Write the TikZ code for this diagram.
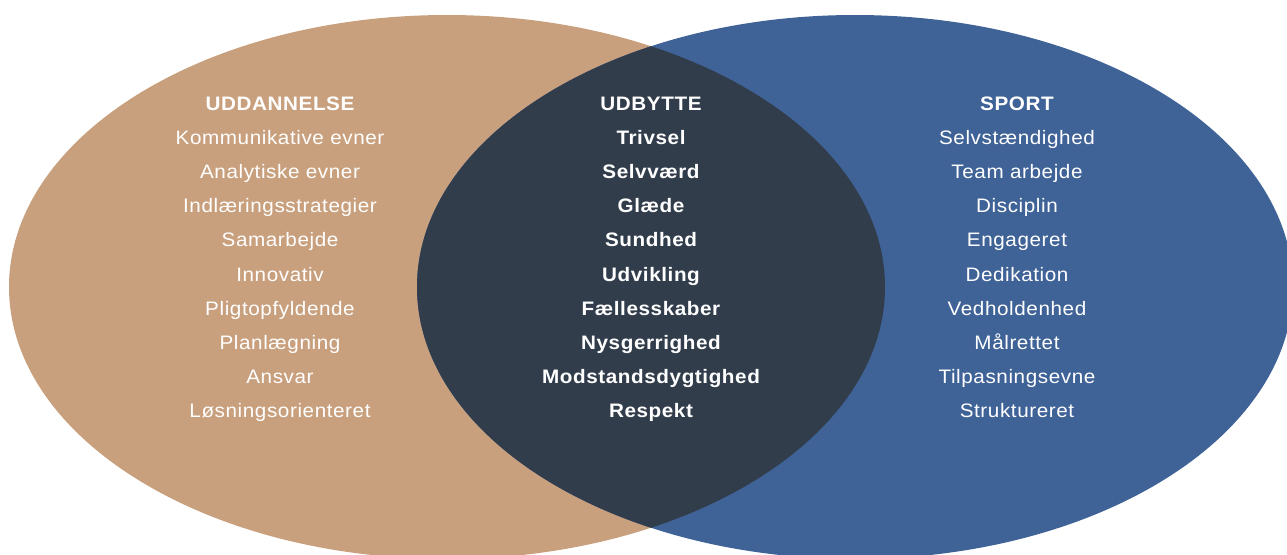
\documentclass[tikz,border=0pt]{standalone}
\usepackage{fontspec}
\setmainfont[LetterSpace=3,FakeStretch=1.06]{Liberation Sans}
\definecolor{tanc}{RGB}{201,160,125}
\definecolor{bluec}{RGB}{63,98,151}
\definecolor{darkc}{RGB}{50,61,76}
\tikzset{
  lbl/.style={text=white, anchor=base, inner sep=0pt, font=\fontsize{19.5}{22}\selectfont},
  blbl/.style={lbl, font=\fontsize{19.5}{22}\selectfont\bfseries}
}
\begin{document}
\begin{tikzpicture}[x=1pt,y=-1pt]
\useasboundingbox (0,0) rectangle (1287,554);
\clip (0,0) rectangle (1287,554);
\fill[tanc] (447,287) ellipse [x radius=438, y radius=272];
\fill[bluec] (855,287) ellipse [x radius=438, y radius=272];
\begin{scope}
\clip (447,287) ellipse [x radius=438, y radius=272];
\fill[darkc] (855,287) ellipse [x radius=438, y radius=272];
\end{scope}
% left column
\node[blbl] (l0) at (280,110) {UDDANNELSE};
\foreach \t [count=\i] in {Kommunikative evner, Analytiske evner, Indlæringsstrategier, Samarbejde, Innovativ, Pligtopfyldende, Planlægning, Ansvar, Løsningsorienteret}
  \node[lbl] (l\i) at (280,{110+34.2*\i}) {\t};
% middle column
\node[blbl] (m0) at (651,110) {UDBYTTE};
\foreach \t [count=\i] in {Trivsel, Selvværd, Glæde, Sundhed, Udvikling, Fællesskaber, Nysgerrighed, Modstandsdygtighed, Respekt}
  \node[blbl] (m\i) at (651,{110+34.2*\i}) {\t};
% right column
\node[blbl] (r0) at (1017,110) {SPORT};
\foreach \t [count=\i] in {Selvstændighed, Team arbejde, Disciplin, Engageret, Dedikation, Vedholdenhed, Målrettet, Tilpasningsevne, Struktureret}
  \node[lbl] (r\i) at (1017,{110+34.2*\i}) {\t};
\end{tikzpicture}
\end{document}
